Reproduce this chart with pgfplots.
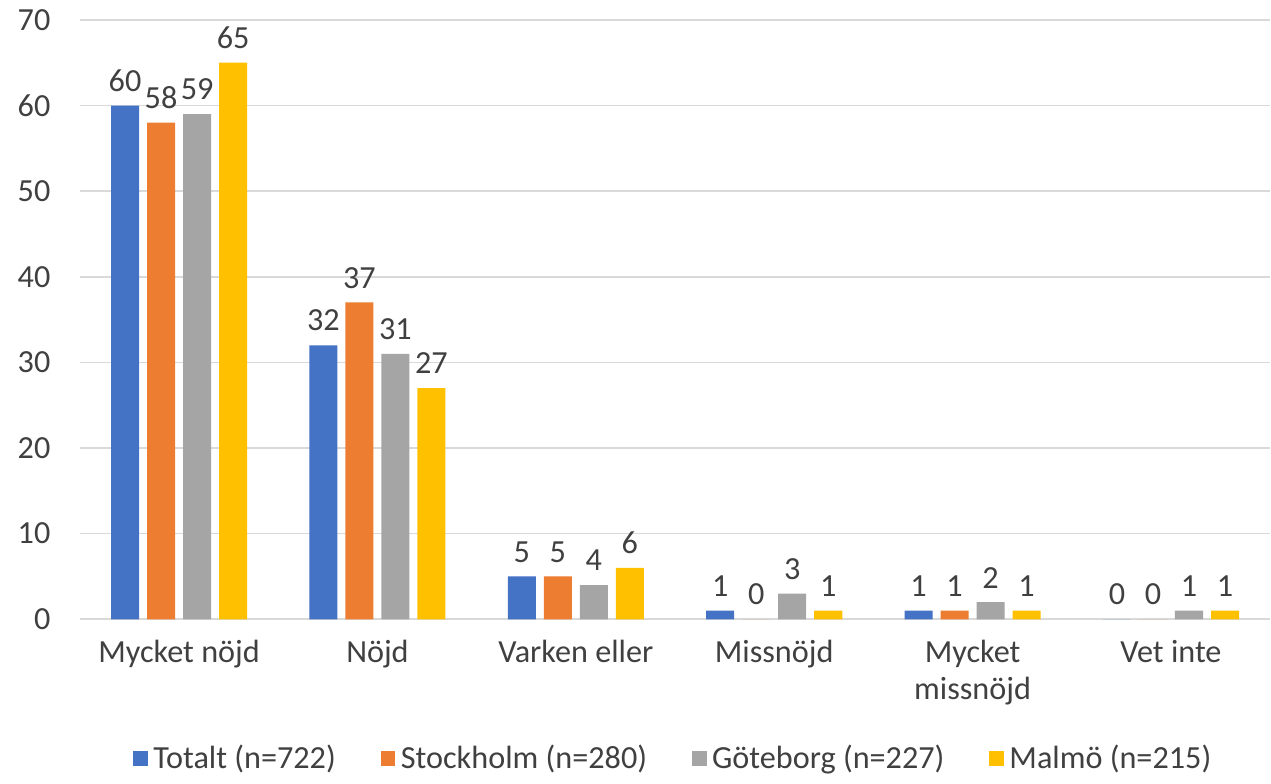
\documentclass[border=0pt]{standalone}
\usepackage{fontspec}
\setmainfont{Carlito}
\usepackage{pgfplots}
\pgfplotsset{compat=1.18}

\definecolor{cTot}{HTML}{4472C4}
\definecolor{cSto}{HTML}{ED7D31}
\definecolor{cGot}{HTML}{A5A5A5}
\definecolor{cMal}{HTML}{FFC000}
\definecolor{txt}{HTML}{404040}
\definecolor{gridc}{HTML}{D9D9D9}

\newcommand{\lbl}{\fontsize{11.5}{13.2}\selectfont}

\begin{document}
\begin{tikzpicture}
\begin{axis}[
    scale only axis,
    width=425pt, height=214pt,
    ybar=2.86pt, bar width=10pt,
    xmin=-0.5, xmax=5.5,
    ymin=0, ymax=70,
    ytick={0,10,...,70},
    xtick={0,...,5},
    xticklabels={Mycket nöjd, Nöjd, Varken eller, Missnöjd, {Mycket\\missnöjd}, Vet inte},
    /pgf/number format/assume math mode=true,
    ticklabel style={font=\lbl, text=txt},
    xticklabel style={align=center, yshift=-4pt},
    yticklabel style={xshift=-7pt},
    ymajorgrids, grid style={draw=gridc, line width=0.6pt},
    axis line style={draw=none},
    major tick length=0pt,
    nodes near coords,
    every node near coord/.append style={font=\lbl, text=txt, yshift=1.5pt},
    legend style={at={(0.5,-0.19)}, anchor=north, legend columns=-1,
        draw=none, font=\lbl, text=txt,
        /tikz/every even column/.append style={column sep=14pt}},
    legend image code/.code={\fill (0pt,-2.6pt) rectangle (5.2pt,2.6pt);},
]
\addplot[draw=none, fill=cTot] coordinates {(0,60) (1,32) (2,5) (3,1) (4,1) (5,0)};
\addplot[draw=none, fill=cSto] coordinates {(0,58) (1,37) (2,5) (3,0) (4,1) (5,0)};
\addplot[draw=none, fill=cGot] coordinates {(0,59) (1,31) (2,4) (3,3) (4,2) (5,1)};
\addplot[draw=none, fill=cMal] coordinates {(0,65) (1,27) (2,6) (3,1) (4,1) (5,1)};
\legend{Totalt (n=722), Stockholm (n=280), Göteborg (n=227), Malmö (n=215)}
\end{axis}
\path (current bounding box.west) ++(-3pt,0) coordinate (padL);
\end{tikzpicture}
\end{document}
